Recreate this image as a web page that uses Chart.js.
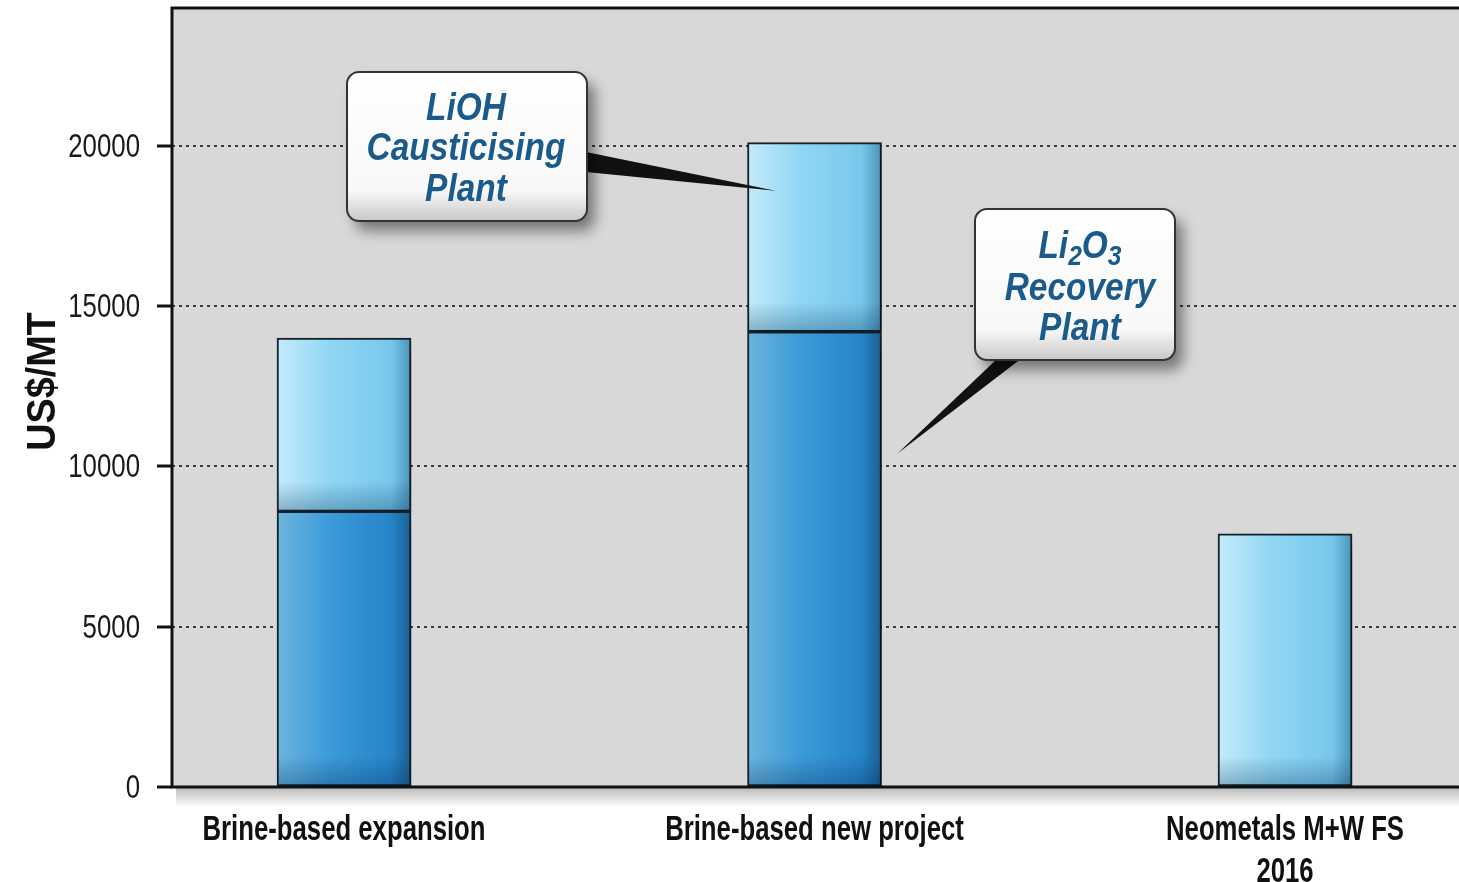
<!DOCTYPE html>
<html>
<head>
<meta charset="utf-8">
<script src="https://cdn.jsdelivr.net/npm/chart.js@4"></script>
<style>
  html, body { margin: 0; padding: 0; background: #fff; }
  #wrap { width: 1459px; height: 882px; }
</style>
</head>
<body>
<div id="wrap"><canvas id="chart" width="1459" height="882"></canvas></div>
<script>
// Chart data
const categories = [['Brine-based expansion'], ['Brine-based new project'], ['Neometals M+W FS', '2016']];
const recoveryPlant = [8600, 14200, 0];      // lower (dark blue) segment
const causticisingPlant = [5400, 5900, 7900]; // upper (light blue) segment
const yTicks = [0, 5000, 10000, 15000, 20000];
const yMax = 24300;
const yTitle = 'US$/MT';

const FONT = "'Liberation Sans', Arial, sans-serif";
const BAR_W = 134;

// condensed text helper (the original uses a narrow typeface)
function condText(ctx, text, x, y, opt) {
  ctx.save();
  ctx.translate(x, y);
  if (opt.rotate) ctx.rotate(opt.rotate);
  ctx.scale(opt.sx || 1, 1);
  ctx.font = `${opt.style || 'normal'} ${opt.weight || 'normal'} ${opt.size}px ${FONT}`;
  ctx.fillStyle = opt.color || '#111';
  ctx.textAlign = opt.align || 'left';
  ctx.textBaseline = 'alphabetic';
  ctx.fillText(text, 0, 0);
  const w = ctx.measureText(text).width * (opt.sx || 1);
  ctx.restore();
  return w;
}

function barGradient(ctx, stops) {
  const chart = ctx.chart;
  const xs = chart.scales && chart.scales.x;
  if (!xs || !chart.chartArea) return stops[1];
  const cx = xs.getPixelForValue(ctx.dataIndex);
  if (!isFinite(cx)) return stops[1];
  const g = chart.ctx.createLinearGradient(cx - BAR_W / 2, 0, cx + BAR_W / 2, 0);
  g.addColorStop(0, stops[0]);
  g.addColorStop(0.4, stops[1]);
  g.addColorStop(0.85, stops[2]);
  g.addColorStop(1, stops[3]);
  return g;
}

// plot background, frame and axis texts
const framePlugin = {
  id: 'frame',
  beforeDraw(chart) {
    const { ctx, chartArea: a } = chart;
    ctx.save();
    ctx.fillStyle = '#fff';
    ctx.fillRect(0, 0, chart.width, chart.height);
    ctx.fillStyle = '#d8d8d8';
    ctx.fillRect(a.left, a.top, a.right - a.left, a.bottom - a.top);
    // shadow under the x axis
    const g = ctx.createLinearGradient(0, a.bottom, 0, a.bottom + 20);
    g.addColorStop(0, 'rgba(0,0,0,0.28)');
    g.addColorStop(1, 'rgba(0,0,0,0)');
    ctx.fillStyle = g;
    ctx.fillRect(a.left + 4, a.bottom, chart.width - a.left, 20);
    ctx.restore();
  },
  beforeDatasetsDraw(chart) {
    const ctx = chart.ctx;
    ctx.save();
    ctx.shadowColor = 'rgba(0,0,0,0.35)';
    ctx.shadowBlur = 14;
    ctx.shadowOffsetX = 10;
    ctx.shadowOffsetY = 8;
  },
  afterDatasetsDraw(chart) {
    const { ctx, chartArea: a } = chart;
    ctx.restore();
    // darker shading at bottom of each segment
    chart.data.datasets.forEach((ds, di) => {
      chart.getDatasetMeta(di).data.forEach((bar, i) => {
        if (!ds.data[i].y) return;
        const top = Math.min(bar.y, bar.base), bot = Math.max(bar.y, bar.base);
        const h = Math.min(30, (bot - top) / 3);
        const g = ctx.createLinearGradient(0, bot - h, 0, bot);
        g.addColorStop(0, 'rgba(0,40,80,0)');
        g.addColorStop(1, 'rgba(0,40,80,0.3)');
        ctx.fillStyle = g;
        ctx.fillRect(bar.x - BAR_W / 2 + 1, bot - h, BAR_W - 2, h - 1);
      });
    });
    // axis frame
    ctx.save();
    ctx.strokeStyle = '#111';
    ctx.lineWidth = 3;
    ctx.beginPath();
    ctx.moveTo(chart.width, a.top);
    ctx.lineTo(a.left, a.top);
    ctx.lineTo(a.left, a.bottom);
    ctx.lineTo(chart.width, a.bottom);
    ctx.stroke();
    ctx.restore();
  },
  afterDraw(chart) {
    const { ctx, chartArea: a } = chart;
    const xs = chart.scales.x, ys = chart.scales.y;
    // y tick labels
    ys.ticks.forEach(t => {
      condText(ctx, String(t.value), 140, ys.getPixelForValue(t.value) + 11,
        { size: 34, sx: 0.76, align: 'right', color: '#1a1a1a' });
    });
    // x category labels
    xs.ticks.forEach(t => {
      categories[t.value].forEach((line, li) => {
        condText(ctx, line, xs.getPixelForValue(t.value), a.bottom + 53 + li * 42,
          { size: 35, weight: 'bold', sx: 0.735, align: 'center' });
      });
    });
    // y title
    condText(ctx, yTitle, 55, (a.top + a.bottom) / 2 - 16,
      { size: 41, weight: 'bold', sx: 0.92, align: 'center', rotate: -Math.PI / 2 });
  }
};

function roundRect(ctx, x, y, w, h, r) {
  ctx.beginPath();
  ctx.moveTo(x + r, y);
  ctx.arcTo(x + w, y, x + w, y + h, r);
  ctx.arcTo(x + w, y + h, x, y + h, r);
  ctx.arcTo(x, y + h, x, y, r);
  ctx.arcTo(x, y, x + w, y, r);
  ctx.closePath();
}

function drawBox(ctx, x, y, w, h) {
  ctx.save();
  ctx.shadowColor = 'rgba(0,0,0,0.45)';
  ctx.shadowBlur = 14;
  ctx.shadowOffsetX = 8;
  ctx.shadowOffsetY = 10;
  roundRect(ctx, x, y, w, h, 12);
  const g = ctx.createLinearGradient(0, y, 0, y + h);
  g.addColorStop(0, '#ffffff');
  g.addColorStop(0.8, '#f8f8f8');
  g.addColorStop(1, '#c8c8c8');
  ctx.fillStyle = g;
  ctx.fill();
  ctx.restore();
  ctx.save();
  roundRect(ctx, x, y, w, h, 12);
  ctx.strokeStyle = '#333';
  ctx.lineWidth = 2;
  ctx.stroke();
  ctx.restore();
}

function drawWedge(ctx, x1, y1, x2, y2, tx, ty) {
  ctx.save();
  ctx.fillStyle = '#111';
  ctx.beginPath();
  ctx.moveTo(x1, y1);
  ctx.lineTo(x2, y2);
  ctx.lineTo(tx, ty);
  ctx.closePath();
  ctx.fill();
  ctx.restore();
}

const calloutPlugin = {
  id: 'callouts',
  afterDraw(chart) {
    const { ctx } = chart;
    const xs = chart.scales.x, ys = chart.scales.y;
    const blue = '#1b5b8c';
    const cf = { size: 38, weight: 'bold', style: 'italic', sx: 0.88, align: 'center', color: blue };
    // LiOH callout -> upper segment of second bar
    const t1x = xs.getPixelForValue(1) - 39, t1y = ys.getPixelForValue(18600);
    drawWedge(ctx, 586, 152, 586, 172, t1x, t1y);
    drawBox(ctx, 347, 72, 240, 149);
    condText(ctx, 'LiOH', 466, 120, cf);
    condText(ctx, 'Causticising', 466, 160, cf);
    condText(ctx, 'Plant', 466, 201, cf);

    // Li2O3 callout -> lower segment of second bar
    const t2x = xs.getPixelForValue(1) + 83, t2y = ys.getPixelForValue(10400);
    drawWedge(ctx, 998, 358, 1022, 358, t2x, t2y);
    drawBox(ctx, 975, 209, 200, 151);
    condText(ctx, 'Recovery', 1080, 300, cf);
    condText(ctx, 'Plant', 1080, 340, cf);
    // Li2O3 with subscripts
    const parts = [['Li', 0, 38], ['2', 7, 28], ['O', 0, 38], ['3', 7, 28]];
    ctx.save();
    let total = 0;
    parts.forEach(p => { ctx.font = `italic bold ${p[2]}px ${FONT}`; total += ctx.measureText(p[0]).width * 0.88; });
    ctx.restore();
    let x = 1080 - total / 2;
    parts.forEach(p => {
      x += condText(ctx, p[0], x, 258 + p[1], { size: p[2], weight: 'bold', style: 'italic', sx: 0.88, color: blue });
    });
  }
};

new Chart(document.getElementById('chart'), {
  type: 'bar',
  data: {
    datasets: [
      {
        label: 'Li2O3 Recovery Plant',
        data: recoveryPlant.map((v, i) => ({ x: i, y: v })),
        backgroundColor: c => barGradient(c, ['#6cb4de', '#3b9ad8', '#2684c8', '#1a5f92']),
        borderColor: '#14222c',
        borderWidth: 2,
        borderSkipped: false,
        barThickness: BAR_W,
        stack: 's'
      },
      {
        label: 'LiOH Causticising Plant',
        data: causticisingPlant.map((v, i) => ({ x: i, y: v })),
        backgroundColor: c => barGradient(c, ['#c4ebfa', '#90d6f4', '#78c8ec', '#4a93b8']),
        borderColor: '#14222c',
        borderWidth: 2,
        borderSkipped: false,
        barThickness: BAR_W,
        stack: 's'
      }
    ]
  },
  options: {
    responsive: false,
    animation: false,
    layout: { padding: { top: 8, right: 0, bottom: 0, left: 0 } },
    plugins: {
      legend: { display: false },
      tooltip: { enabled: false }
    },
    scales: {
      x: {
        type: 'linear',
        stacked: true,
        offset: false,
        min: -0.3656,
        max: 2.3698,
        afterBuildTicks: s => { s.ticks = categories.map((c, i) => ({ value: i })); },
        afterFit: s => { s.height = 95; s.paddingLeft = 0; s.paddingRight = 0; },
        grid: { display: false, drawTicks: false },
        border: { display: false },
        ticks: { display: false }
      },
      y: {
        stacked: true,
        min: 0,
        max: yMax,
        afterBuildTicks: s => { s.ticks = yTicks.map(v => ({ value: v })); },
        afterFit: s => { s.width = 172; s.paddingTop = 0; s.paddingBottom = 0; },
        grid: {
          color: '#3a3a3a',
          lineWidth: 2,
          tickColor: '#111',
          tickWidth: 3,
          tickLength: 15,
          tickBorderDash: []
        },
        border: { display: false, dash: [3, 4] },
        ticks: { display: false }
      }
    }
  },
  plugins: [framePlugin, calloutPlugin]
});
</script>
</body>
</html>
